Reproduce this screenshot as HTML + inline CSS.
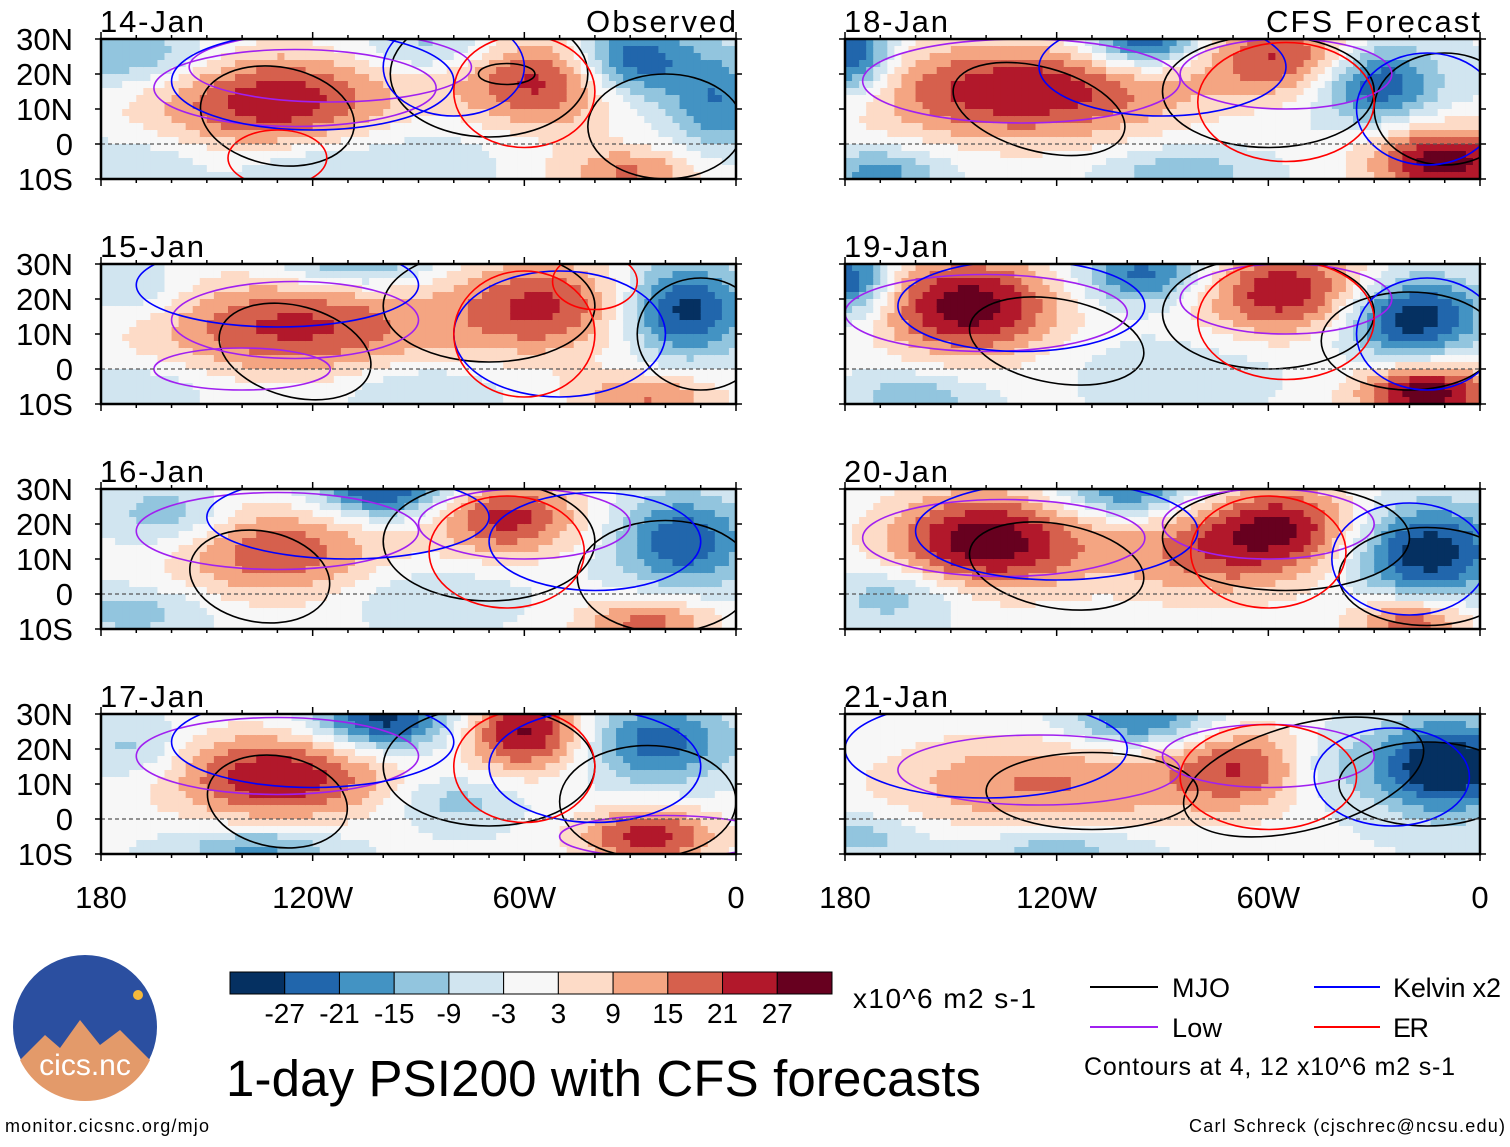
<!DOCTYPE html>
<html><head><meta charset="utf-8">
<style>
body{margin:0;background:#fff;width:1510px;height:1142px;overflow:hidden;font-family:"Liberation Sans",sans-serif}
svg text{font-family:"Liberation Sans",sans-serif}
</style></head>
<body>
<svg id="chart" width="1510" height="1142" xmlns="http://www.w3.org/2000/svg">
<defs id="defs"></defs>
<g id="panels"></g>
<g id="legend">
  <line x1="1090" y1="987" x2="1158" y2="987" stroke="#000" stroke-width="2"/>
  <text x="1172" y="997" font-size="27" textLength="58">MJO</text>
  <line x1="1090" y1="1027" x2="1158" y2="1027" stroke="#a020f0" stroke-width="2"/>
  <text x="1172" y="1037" font-size="27" textLength="50">Low</text>
  <line x1="1314" y1="987" x2="1380" y2="987" stroke="#0000ff" stroke-width="2"/>
  <text x="1393" y="997" font-size="27" textLength="108">Kelvin x2</text>
  <line x1="1314" y1="1027" x2="1380" y2="1027" stroke="#ff0000" stroke-width="2"/>
  <text x="1393" y="1037" font-size="27" textLength="36">ER</text>
  <text x="1084" y="1075" font-size="25" textLength="371">Contours at 4, 12 x10^6 m2 s-1</text>
</g>
<g id="colorbar"></g>
<text x="853" y="1008" font-size="28" textLength="183">x10^6 m2 s-1</text>
<text x="226" y="1096" font-size="51" textLength="755">1-day PSI200 with CFS forecasts</text>
<text x="5" y="1132" font-size="18" textLength="204">monitor.cicsnc.org/mjo</text>
<text x="1505" y="1132" font-size="18" text-anchor="end" textLength="316">Carl Schreck (cjschrec@ncsu.edu)</text>
<g>
  <circle cx="85" cy="1027" r="72" fill="#2b4fa0"/>
  <path d="M20,1060 L45,1035 L60,1048 L80,1020 L100,1045 L120,1030 L150,1060 A72,72 0 0 1 20,1060Z" fill="#e39a6a"/>
  <circle cx="138" cy="995" r="5" fill="#f6b93b"/>
  <text x="85" y="1075" font-size="30" fill="#fff" text-anchor="middle">cics.nc</text>
</g>
</svg>
<script>
// ---- data ----
const panelDates = ["14-Jan","15-Jan","16-Jan","17-Jan","18-Jan","19-Jan","20-Jan","21-Jan"];
const levels = [-27,-21,-15,-9,-3,3,9,15,21,27];
const levelColors = ["#053061","#2166ac","#4393c3","#92c5de","#d1e5f0","#f7f7f7","#fddbc7","#f4a582","#d6604d","#b2182b","#67001f"];
const latTicks = ["30N","20N","10N","0","10S"];
const latTickValues = [30,20,10,0,-10];
const lonTicks = ["180","120W","60W","0"];
const lonTickValues = [180,120,60,0];
// anomaly centers per panel: [lonW, lat, amplitude, lonWidth, latWidth]
const blobs14 = [[130,12,28,25,10],[55,18,26,18,10],[30,24,-28,12,8],[5,12,-18,10,10],[170,25,-14,15,6],[30,-8,18,15,5],[120,-6,-9,15,5],[85,27,-12,15,5],[90,0,-6,20,8],[170,-5,-7,15,5]];
const blobs15 = [[125,12,25,30,10],[55,18,24,18,10],[15,17,-28,12,9],[108,30,-16,15,5],[25,-8,18,15,5],[90,-5,-9,15,5],[170,22,-9,10,6],[170,-5,-7,15,5]];
const blobs16 = [[130,12,22,22,10],[65,22,26,15,8],[100,30,-28,14,6],[15,15,-24,13,9],[25,-8,20,14,5],[160,22,-14,12,6],[170,-5,-10,15,5],[90,0,-7,18,6]];
const blobs17 = [[130,12,29,22,9],[60,25,31,12,8],[100,28,-28,14,6],[22,22,-22,14,8],[25,-5,27,14,6],[135,-8,-16,15,4],[80,5,-10,12,5],[170,20,-10,10,6]];
const blobs18 = [[130,15,29,32,10],[55,25,24,18,8],[95,30,-30,12,6],[30,18,-28,12,8],[178,25,-28,8,8],[10,-5,34,15,7],[170,-8,-16,12,5],[85,-8,-12,14,5]];
const blobs19 = [[145,18,34,18,10],[55,22,29,18,9],[95,27,-22,13,6],[20,15,-31,14,8],[178,25,-26,8,7],[15,-7,34,14,6],[160,-8,-12,12,5],[85,0,-6,18,6]];
const blobs20 = [[140,15,34,20,10],[75,12,20,22,10],[55,20,22,15,8],[100,30,-22,14,6],[15,12,-30,15,9],[165,0,-12,14,6],[20,-8,22,12,5]];
const blobs21 = [[125,10,18,32,10],[65,15,22,18,9],[95,28,-22,15,6],[10,15,-34,14,9],[120,-8,-12,18,4],[175,-5,-10,12,5],[45,15,-14,10,8]];
const panelBlobs = [blobs14,blobs15,blobs16,blobs17,blobs18,blobs19,blobs20,blobs21];
// contours per panel: [type, lonW, lat, lonRadius, latRadius, rotationDeg]
const contours14 = [["mjo",130,8,22,14,10],["mjo",70,20,28,18,0],["mjo",20,5,22,15,0],["mjo",65,20,8,3,0],["low",125,16,40,11,0],["low",115,22,40,10,0],["kel",120,18,40,14,0],["kel",80,22,20,14,0],["er",60,15,20,16,0],["er",130,-4,14,8,0]];
const contours15 = [["mjo",125,5,22,13,15],["mjo",70,18,30,16,0],["mjo",10,10,18,16,0],["low",125,14,35,11,0],["low",140,0,25,6,0],["kel",130,24,40,12,0],["kel",50,10,30,18,0],["er",60,10,20,18,0],["er",40,25,12,8,0]];
const contours16 = [["mjo",135,5,20,13,10],["mjo",70,15,30,17,0],["mjo",20,5,25,16,0],["low",130,18,40,11,0],["low",60,20,30,10,0],["kel",110,22,40,12,0],["kel",40,15,30,14,0],["er",65,12,22,16,0]];
const contours17 = [["mjo",130,5,20,13,10],["mjo",70,15,30,17,0],["mjo",25,5,25,16,0],["low",130,18,40,11,0],["low",20,-5,30,6,0],["kel",120,22,40,13,0],["kel",40,15,30,16,0],["er",60,15,20,16,0]];
const contours18 = [["mjo",125,10,25,12,15],["mjo",60,15,30,16,0],["mjo",10,10,20,16,0],["low",130,18,45,12,0],["low",55,20,30,10,0],["kel",90,22,35,14,0],["kel",15,10,20,16,0],["er",55,12,25,17,0]];
const contours19 = [["mjo",120,8,25,12,10],["mjo",60,16,30,16,0],["mjo",20,8,25,14,0],["low",140,16,40,11,0],["low",55,20,30,10,0],["kel",130,18,35,13,0],["kel",15,10,20,16,0],["er",55,14,25,17,0]];
const contours20 = [["mjo",120,8,25,12,10],["mjo",55,16,35,15,0],["mjo",15,5,25,14,0],["low",135,16,40,11,0],["low",60,20,30,10,0],["kel",120,18,40,14,0],["kel",20,10,22,16,0],["er",60,12,22,16,0]];
const contours21 = [["mjo",110,8,30,11,0],["mjo",50,12,35,15,-15],["mjo",15,10,25,12,0],["low",125,14,40,10,0],["low",60,18,30,9,0],["kel",140,20,40,14,0],["kel",25,12,22,14,0],["er",60,12,25,15,0]];
const panelContours = [contours14,contours15,contours16,contours17,contours18,contours19,contours20,contours21];

// ---- layout ----
const colX = [101, 845], PW = 635, PH = 140;
const rowY = [39, 264, 489, 714];
const contourColors = {mjo:"#000000", low:"#a020f0", kel:"#0000ff", er:"#ff0000"};
const NS = "http://www.w3.org/2000/svg";
function mk(tag, attrs, parent){const e=document.createElementNS(NS,tag);for(const k in attrs)e.setAttribute(k,attrs[k]);if(parent)parent.appendChild(e);return e;}
function colorFor(v){let i=0;while(i<levels.length && v>levels[i]) i++;return levelColors[i];}
function field(bl, lon, lat){let s=-2.5;for(const b of bl){const dx=(lon-b[0])/b[3],dy=(lat-b[1])/b[4];s+=b[2]*Math.exp(-0.5*(dx*dx+dy*dy));}return s;}

const panelsG = document.getElementById('panels');
const defs = document.getElementById('defs');
for(let p=0;p<8;p++){
  const px = colX[p<4?0:1], py = rowY[p%4];
  const xs = lon => px + (180-lon)/180*PW;
  const ys = lat => py + (30-lat)/40*PH;
  const g = mk('g',{},panelsG);
  
  
  const cp = mk('clipPath',{id:'clip'+p},defs);
  mk('rect',{x:px,y:py,width:PW,height:PH},cp);
  const inner = mk('g',{'clip-path':'url(#clip'+p+')'},g);
  const step = 2;
  for(let lon=180;lon>0;lon-=step){
    for(let lat=30;lat>-10;lat-=step){
      const v = field(panelBlobs[p], lon-step/2, lat-step/2);
      const r = mk('rect',{x:xs(lon).toFixed(2),y:ys(lat).toFixed(2),width:(step/180*PW+0.6).toFixed(2),height:(step/40*PH+0.6).toFixed(2),fill:colorFor(v)},inner);
      
      
    }
  }
  for(const c of panelContours[p]){
    const cx=xs(c[1]), cy=ys(c[2]);
    const e = mk('ellipse',{cx:cx,cy:cy,rx:c[3]/180*PW,ry:c[4]/40*PH,transform:'rotate('+c[5]+' '+cx+' '+cy+')',fill:'none',stroke:contourColors[c[0]],'stroke-width':1.6},inner);
    
    
  }
  const eq = mk('line',{x1:px,x2:px+PW,y1:ys(0),y2:ys(0),stroke:'#555','stroke-dasharray':'4,3','stroke-width':1.2},g);
  
  
  const fr = mk('rect',{x:px,y:py,width:PW,height:PH,fill:'none',stroke:'#000','stroke-width':2.5},g);
  
  
  for(let lon=180;lon>=0;lon-=10){
    const len = lon%60===0?7:4;
    mk('line',{x1:xs(lon),x2:xs(lon),y1:py,y2:py-len,stroke:'#000','stroke-width':1.5},g);
    mk('line',{x1:xs(lon),x2:xs(lon),y1:py+PH,y2:py+PH+len,stroke:'#000','stroke-width':1.5},g);
  }
  for(let i=0;i<latTickValues.length;i++){
    mk('line',{x1:px,x2:px-6,y1:ys(latTickValues[i]),y2:ys(latTickValues[i]),stroke:'#000','stroke-width':1.5},g);
    mk('line',{x1:px+PW,x2:px+PW+6,y1:ys(latTickValues[i]),y2:ys(latTickValues[i]),stroke:'#000','stroke-width':1.5},g);
    if(p<4){
      const t = mk('text',{x:73,y:ys(latTickValues[i])+11,'font-size':31,'text-anchor':'end'},g);
      t.textContent = latTicks[i];
      
      
    }
  }
  const dt = mk('text',{x:px-1,y:py-7,'font-size':31,textLength:104},g);
  dt.textContent = panelDates[p];
  
  
  if(p===0||p===4){
    const lt = mk('text',{x:px+PW,y:py-7,'font-size':31,'text-anchor':'end',textLength:p===0?150:214},g);
    lt.textContent = p===0?"Observed":"CFS Forecast";
    
    
  }
  if(p===3||p===7){
    for(let i=0;i<lonTickValues.length;i++){
      const t = mk('text',{x:xs(lonTickValues[i]),y:py+PH+54,'font-size':31,'text-anchor':'middle'},g);
      t.textContent = lonTicks[i];
      
      
    }
  }
}
// colorbar
const cb = document.getElementById('colorbar');
const cbX=230, cbW=602, cbY=972, cbH=22, bw=cbW/levelColors.length;
for(let i=0;i<levelColors.length;i++){
  const r = mk('rect',{x:cbX+i*bw,y:cbY,width:bw,height:cbH,fill:levelColors[i],stroke:'#000','stroke-width':1},cb);
  
  
}
for(let i=0;i<levels.length;i++){
  const t = mk('text',{x:cbX+(i+1)*bw,y:1023,'font-size':28,'text-anchor':'middle'},cb);
  t.textContent = levels[i];
  
  
}
</script>
</body></html>
